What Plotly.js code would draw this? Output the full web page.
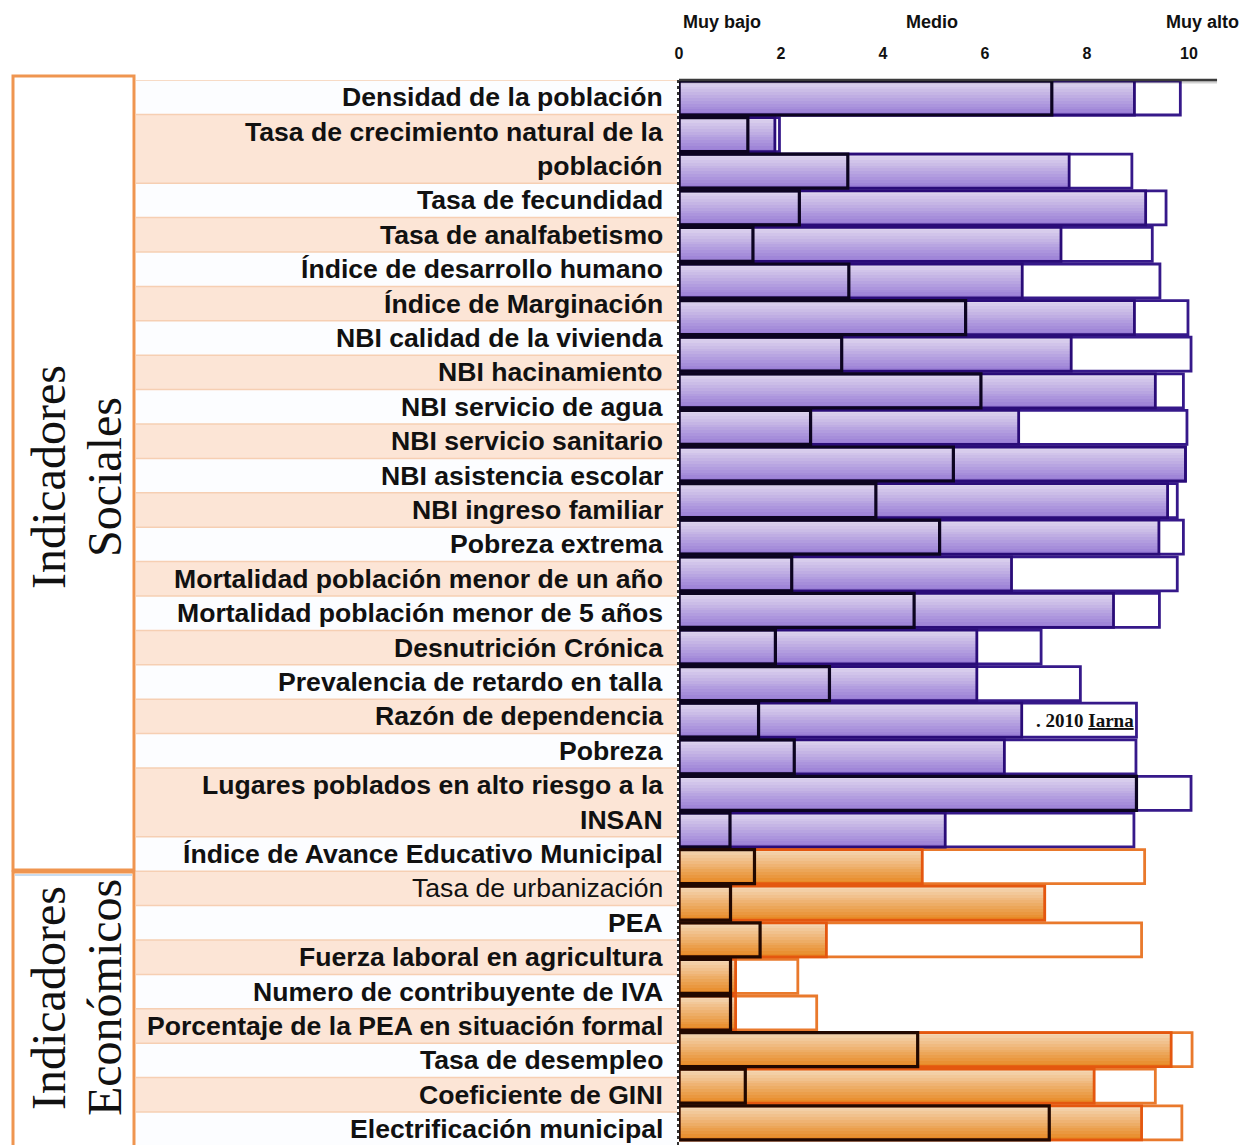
<!DOCTYPE html>
<html><head><meta charset="utf-8">
<script src="https://cdn.plot.ly/plotly-3.0.1.min.js"></script>
<style>html,body{margin:0;padding:0;background:#fff}#chart{width:1247px;height:1145px}</style>
</head><body><div id="chart"></div>
<script>
// ---------------- data ----------------
const socialIndicators = [
  'Densidad de la población',
  'Tasa de crecimiento natural de la\npoblación',
  'Tasa de fecundidad',
  'Tasa de analfabetismo',
  'Índice de desarrollo humano',
  'Índice de Marginación',
  'NBI calidad de la vivienda',
  'NBI hacinamiento',
  'NBI servicio de agua',
  'NBI servicio sanitario',
  'NBI asistencia escolar',
  'NBI ingreso familiar',
  'Pobreza extrema',
  'Mortalidad población menor de un año',
  'Mortalidad población menor de 5 años',
  'Desnutrición Crónica',
  'Prevalencia de retardo en talla',
  'Razón de dependencia',
  'Pobreza',
  'Lugares poblados en alto riesgo a la\nINSAN',
  'Índice de Avance Educativo Municipal'
];
const socialLow  = [7.31, 1.35, 3.31, 2.36, 1.45, 3.33, 5.62, 3.19, 5.92, 2.58, 5.38, 3.86, 5.11, 2.21, 4.61, 1.89, 2.95, 1.56, 2.26, 8.97, 1.00];
const socialMid  = [8.93, 1.88, 7.65, 9.15, 7.49, 6.73, 8.93, 7.69, 9.34, 6.66, 9.93, 9.58, 9.41, 6.52, 8.52, 5.84, 5.84, 6.72, 6.38, 8.97, 5.22];
const socialHigh = [9.83, 1.97, 8.88, 9.55, 9.28, 9.43, 9.98, 10.04, 9.89, 9.96, 9.93, 9.77, 9.89, 9.77, 9.42, 7.10, 7.87, 8.97, 8.96, 10.04, 8.92];

const economicIndicators = [
  'Tasa de urbanización',
  'PEA',
  'Fuerza laboral en agricultura',
  'Numero de contribuyente de IVA',
  'Porcentaje de la PEA en situación formal',
  'Tasa de desempleo',
  'Coeficiente de GINI',
  'Electrificación municipal'
];
const economicLow  = [1.48, 1.01, 1.59, 1.01, 1.01, 4.68, 1.30, 7.26];
const economicMid  = [4.77, 7.17, 2.89, 1.11, 1.11, 9.65, 8.14, 9.07];
const economicHigh = [9.13, 7.17, 9.07, 2.33, 2.70, 10.06, 9.34, 9.86];

const groupNames = [['Indicadores', 'Sociales'], ['Indicadores', 'Económicos']];
const scaleTicks = [0, 2, 4, 6, 8, 10];
const scaleWords = ['Muy bajo', 'Medio', 'Muy alto'];
const sourceNote = '. 2010 <u>Iarna</u>';
const regularWeightLabels = ['Tasa de urbanización'];

// ---------------- build ----------------
const W = 1247, H = 1145;
const px = v => v / W;
const py = v => 1 - v / H;

const cats = socialIndicators.concat(economicIndicators);
const low = socialLow.concat(economicLow);
const mid = socialMid.concat(economicMid);
const high = socialHigh.concat(economicHigh);
const isSocial = cats.map((c, i) => i < socialIndicators.length);

const pick = (a, b) => isSocial.map(s => s ? a : b);

function mix(c1, c2, t) {
  const h = c => [1,3,5].map(k => parseInt(c.substr(k,2),16));
  const a = h(c1), b = h(c2);
  return 'rgb(' + a.map((v,i) => Math.round(v + (b[i]-v)*t)).join(',') + ')';
}

const BW = 0.93;
const traces = [];
traces.push({
  type: 'bar', orientation: 'h', y: cats, x: high, width: BW,
  marker: {color: '#ffffff', line: {color: pick('#36198a', '#e9792c'), width: 2.8}},
  hoverinfo: 'x+y', showlegend: false
});
const NB = 12;
for (let k = 0; k < NB; k++) {
  const t = k / (NB - 1);
  traces.push({
    type: 'bar', orientation: 'h', y: cats, x: mid,
    width: BW / NB + 0.002, offset: -BW / 2 + k * BW / NB,
    marker: {color: pick(mix('#ddd4ee', '#9a7ed6', t), mix('#f4d6b3', '#e88a26', t)), line: {width: 0}},
    hoverinfo: 'skip', showlegend: false
  });
}
traces.push({
  type: 'bar', orientation: 'h', y: cats, x: mid, width: BW,
  marker: {color: 'rgba(0,0,0,0)', line: {color: pick('#2a0c78', '#e4570f'), width: 2.8}},
  hoverinfo: 'skip', showlegend: false
});
traces.push({
  type: 'bar', orientation: 'h', y: cats, x: low, width: BW,
  marker: {color: 'rgba(0,0,0,0)', line: {color: pick('#0c0420', '#220800'), width: 3.2}},
  hoverinfo: 'skip', showlegend: false
});
traces.push({type: 'scatter', x: [0], y: [0], xaxis: 'x', yaxis: 'y2', mode: 'markers',
  marker: {opacity: 0}, hoverinfo: 'skip', showlegend: false});

const shapes = [];
const annotations = [];
const ROWS = 1065 / 34.4;

let r = 0;
cats.forEach((c, i) => {
  const lines = c.split('\n');
  const span = lines.length;
  shapes.push({type: 'rect', layer: 'below', xref: 'paper', yref: 'y2',
    x0: px(136), x1: px(677), y0: r, y1: r + span,
    fillcolor: i % 2 ? '#fce5d6' : '#fcfdff', line: {width: 0}});
  shapes.push({type: 'line', layer: 'below', xref: 'paper', yref: 'y2',
    x0: px(136), x1: px(677), y0: r, y1: r, line: {color: '#f6cfb3', width: 1.5}});
  lines.forEach((ln, l) => {
    const bold = regularWeightLabels.indexOf(c) < 0;
    annotations.push({xref: 'paper', yref: 'y2', x: px(665), y: r + l + 0.5,
      xanchor: 'right', yanchor: 'middle', showarrow: false,
      text: bold ? '<b>' + ln + '</b>' : ln,
      font: {family: 'Liberation Sans, Arial, sans-serif', size: 26.6, color: '#111'}});
  });
  r += span;
});

// group boxes
shapes.push({type: 'rect', xref: 'paper', yref: 'paper', x0: px(13), x1: px(134), y0: py(870), y1: py(76),
  line: {color: '#ef9550', width: 3}, fillcolor: 'rgba(0,0,0,0)'});
shapes.push({type: 'rect', xref: 'paper', yref: 'paper', x0: px(13), x1: px(134), y0: py(1160), y1: py(872),
  line: {color: '#ef9550', width: 3}, fillcolor: 'rgba(0,0,0,0)'});
shapes.push({type: 'line', xref: 'paper', yref: 'paper', x0: px(15), x1: px(132), y0: py(875), y1: py(875),
  line: {color: '#c9dcef', width: 2}});
const groupCenters = [477, 998];
const lineX = [48, 104];
groupNames.forEach((g, gi) => g.forEach((t, li) => annotations.push({
  xref: 'paper', yref: 'paper', x: px(lineX[li]), y: py(groupCenters[gi]), textangle: -90,
  xanchor: 'center', yanchor: 'middle', showarrow: false, text: t,
  font: {family: 'Liberation Serif, Times New Roman, serif', size: 48, color: '#111'}})));

// axis decorations
shapes.push({type: 'line', xref: 'x', yref: 'paper', x0: 0.0, x1: 10.55, y0: py(82), y1: py(82),
  line: {color: 'rgba(0,0,0,0.18)', width: 3}});
shapes.push({type: 'line', xref: 'x', yref: 'paper', x0: 0.0, x1: 10.55, y0: py(80), y1: py(80),
  line: {color: '#3b3b3b', width: 2.5}});
shapes.push({type: 'line', xref: 'paper', yref: 'paper', x0: px(678), x1: px(678), y0: py(80), y1: py(1145),
  line: {color: '#333', width: 2, dash: 'dot'}});

const wordX = [0.84, 4.96, 10.27];
scaleWords.forEach((w, i) => annotations.push({xref: 'x', yref: 'paper', x: wordX[i], y: py(22),
  xanchor: 'center', yanchor: 'middle', showarrow: false, text: '<b>' + w + '</b>',
  font: {family: 'Liberation Sans, Arial, sans-serif', size: 18, color: '#111'}}));

annotations.push({xref: 'x', yref: 'y', x: 7.96, y: 'Razón de dependencia', xanchor: 'center', yanchor: 'middle',
  showarrow: false, text: '<b>' + sourceNote + '</b>',
  font: {family: 'Liberation Serif, Times New Roman, serif', size: 19, color: '#111'}});

const layout = {
  width: W, height: H, margin: {l: 0, r: 0, t: 0, b: 0},
  paper_bgcolor: '#ffffff', plot_bgcolor: 'rgba(0,0,0,0)',
  barmode: 'overlay', bargap: 0,
  xaxis: {domain: [px(679), 1], range: [0, (W - 679) / 51], side: 'top',
    tickvals: scaleTicks, ticktext: scaleTicks.map(String),
    ticks: 'outside', ticklen: 14, tickcolor: 'rgba(0,0,0,0)',
    tickfont: {family: 'Liberation Sans, Arial, sans-serif', size: 16, color: '#111', weight: 'bold'},
    showgrid: false, zeroline: false, showline: false, fixedrange: true},
  yaxis: {domain: [0, py(80)], type: 'category', categoryarray: cats, categoryorder: 'array',
    range: [(1145 - 98) / 36.6, -18 / 36.6], showticklabels: false, showgrid: false,
    zeroline: false, showline: false, ticks: '', fixedrange: true},
  yaxis2: {overlaying: 'y', range: [ROWS, 0], visible: false, showgrid: false, zeroline: false, fixedrange: true},
  shapes: shapes, annotations: annotations, showlegend: false
};

Plotly.newPlot('chart', traces, layout, {displayModeBar: false, staticPlot: true});
</script></body></html>
